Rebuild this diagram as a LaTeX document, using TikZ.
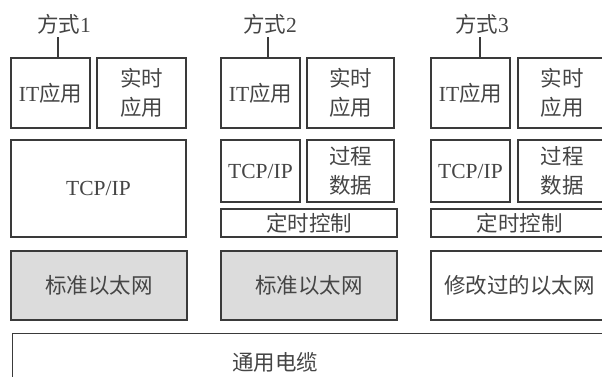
\documentclass[tikz,border=0pt]{standalone}
\usepackage{fontspec}
\setmainfont{Liberation Serif}
\newfontfamily\cjk{Noto Sans CJK SC}
\newcommand\zh[1]{{\cjk #1}}
\definecolor{ln}{HTML}{3A3A3A}
\definecolor{tx}{HTML}{454545}
\definecolor{eth}{HTML}{DCDCDC}
\begin{document}
\begin{tikzpicture}[x=1pt,y=-1pt,
  box/.style={draw=ln,line width=1.3pt,rectangle,inner sep=0pt,text=tx,align=center,
    font=\fontsize{21.5}{29}\selectfont},
  graybox/.style={box,fill=eth},
  lab/.style={text=tx,inner sep=0pt,font=\fontsize{21.5}{24}\selectfont},
  conn/.style={draw=ln,line width=1.2pt}]
\useasboundingbox (0,0) rectangle (602,377);
\clip (0,0) rectangle (602,377);
\fill[white] (0,0) rectangle (602,377);
% column 1
\node[lab] (m1) at (64,24) {\zh{方式}1};
\node[box,minimum width=79pt,minimum height=70pt] (it1) at (50.5,93) {IT\zh{应用}};
\node[box,minimum width=89pt,minimum height=70pt] (rt1) at (141.5,93) {\zh{实时}\\\zh{应用}};
\node[box,minimum width=175pt,minimum height=97pt] (tcp1) at (98.5,188.5) {TCP/IP};
\node[graybox,minimum width=176pt,minimum height=69pt] (eth1) at (99,285.5) {\zh{标准以太网}};
% column 2
\node[lab] (m2) at (270,24) {\zh{方式}2};
\node[box,minimum width=79pt,minimum height=70pt] (it2) at (260.5,93) {IT\zh{应用}};
\node[box,minimum width=87pt,minimum height=70pt] (rt2) at (350.5,93) {\zh{实时}\\\zh{应用}};
\node[box,minimum width=79pt,minimum height=62pt] (tcp2) at (260.5,171) {TCP/IP};
\node[box,minimum width=87pt,minimum height=62pt] (pd2) at (350.5,171) {\zh{过程}\\\zh{数据}};
\node[box,minimum width=176pt,minimum height=28pt] (tc2) at (309,223) {\zh{定时控制}};
\node[graybox,minimum width=176pt,minimum height=69pt] (eth2) at (309,285.5) {\zh{标准以太网}};
% column 3
\node[lab] (m3) at (482,24) {\zh{方式}3};
\node[box,minimum width=79pt,minimum height=70pt] (it3) at (470.5,93) {IT\zh{应用}};
\node[box,minimum width=88pt,minimum height=70pt] (rt3) at (562,93) {\zh{实时}\\\zh{应用}};
\node[box,minimum width=79pt,minimum height=62pt] (tcp3) at (470.5,171) {TCP/IP};
\node[box,minimum width=88pt,minimum height=62pt] (pd3) at (562,171) {\zh{过程}\\\zh{数据}};
\node[box,minimum width=177pt,minimum height=28pt] (tc3) at (519.5,223) {\zh{定时控制}};
\node[box,minimum width=177pt,minimum height=69pt] (eth3) at (519.5,285.5) {\zh{修改过的以太网}};
% cable
\node[box,minimum width=640pt,minimum height=80pt,anchor=north west] (cable) at (12,333) {};
\node[lab] (cabtxt) at (275,362) {\zh{通用电缆}};
% label connectors
\coordinate (c1) at (58,58);
\coordinate (c2) at (268,58);
\coordinate (c3) at (480,58);
\draw[conn] (c1 |- m1.south) ++(0,3) -- (c1);
\draw[conn] (c2 |- m2.south) ++(0,3) -- (c2);
\draw[conn] (c3 |- m3.south) ++(0,3) -- (c3);
\end{tikzpicture}
\end{document}
